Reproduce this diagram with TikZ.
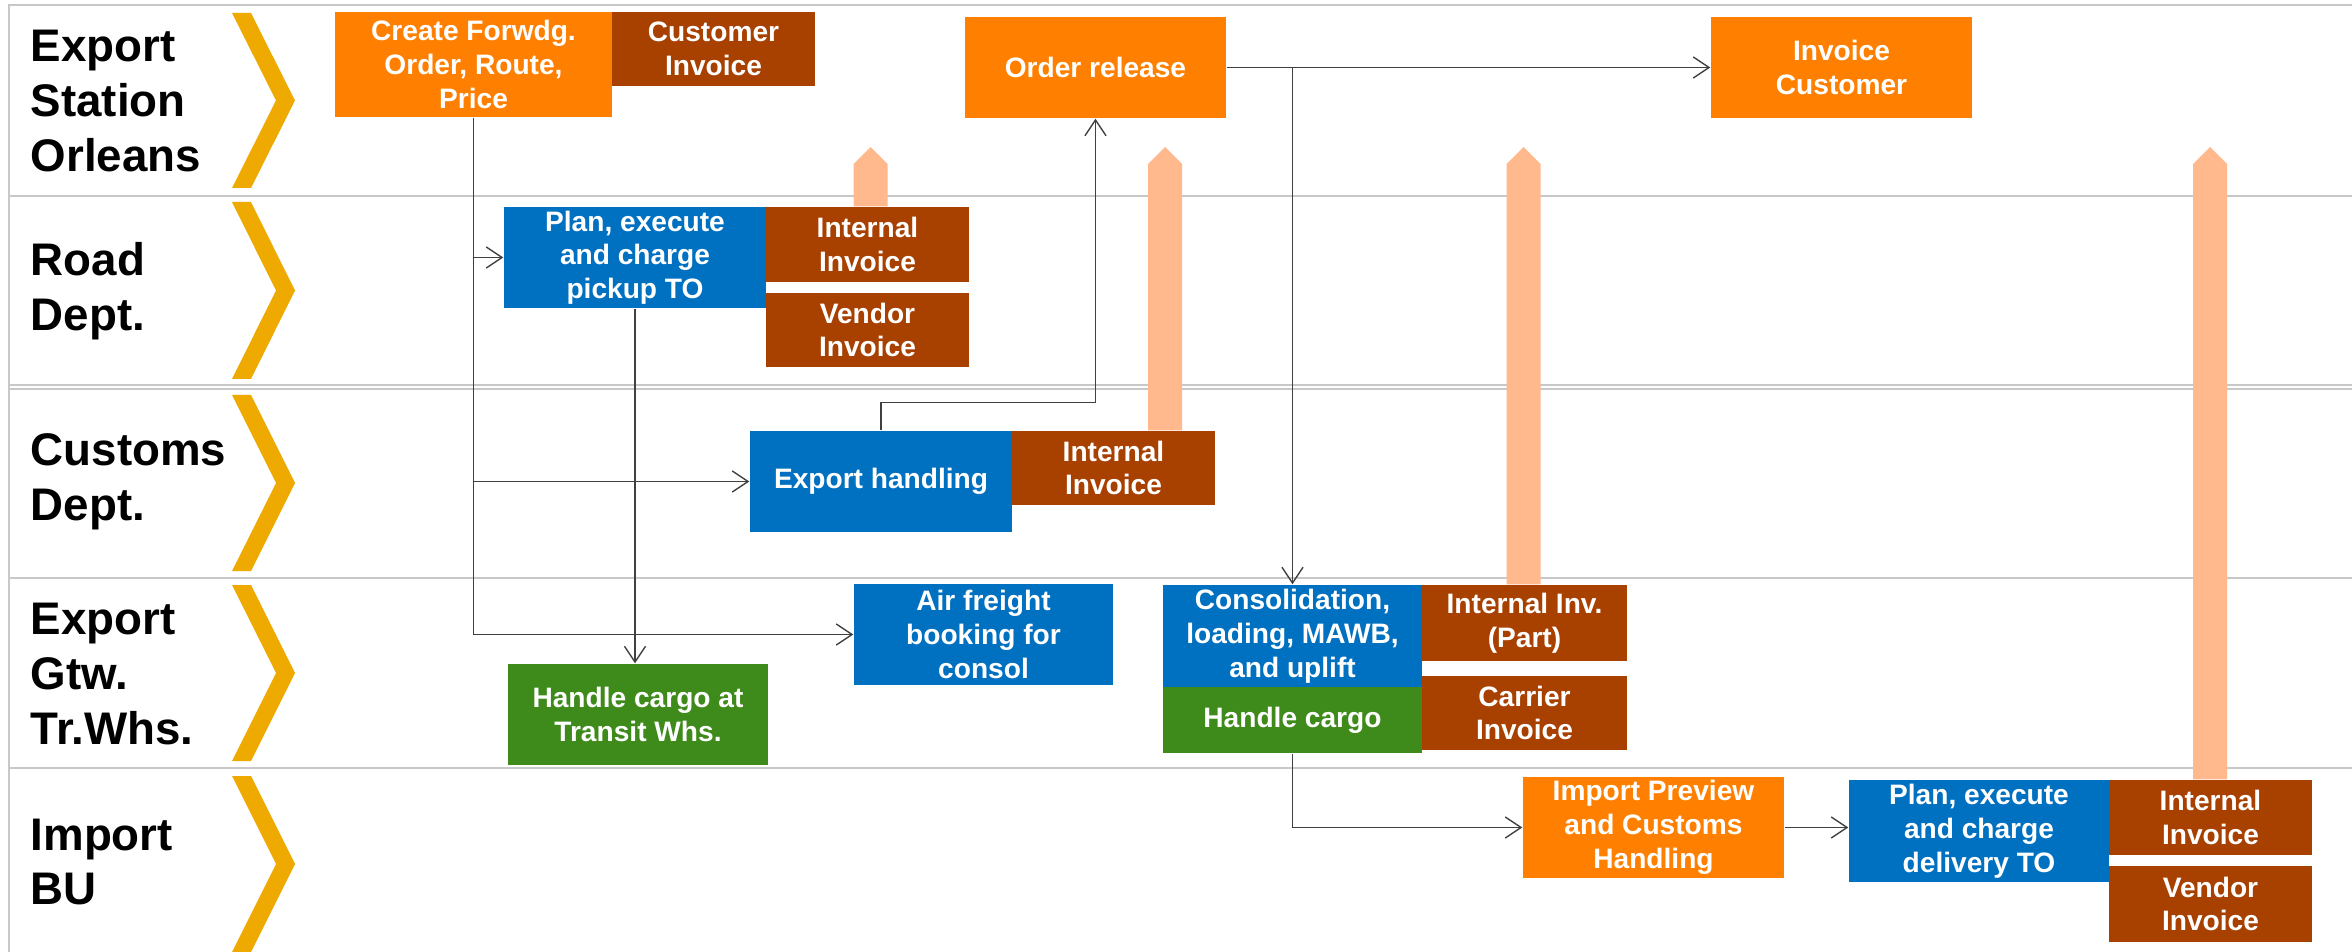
\documentclass[tikz,border=0pt]{standalone}
\usepackage{fontspec}
\setmainfont{Liberation Sans}
\usepackage{xcolor}
\usetikzlibrary{arrows.meta}

\definecolor{boxorange}{RGB}{255,128,0}
\definecolor{boxbrown}{RGB}{168,64,0}
\definecolor{boxblue}{RGB}{0,112,192}
\definecolor{boxgreen}{RGB}{62,138,26}
\definecolor{peach}{RGB}{255,185,140}
\definecolor{laneyellow}{RGB}{238,170,0}
\definecolor{laneline}{RGB}{200,200,200}

% invoice feed arrow: shaft centre x, target invoice node
\newcommand{\feedarrow}[2]{%
  \fill[peach] (#1-17,0 |- #2.north) -- (#1-17,164) -- (#1,147)
    -- (#1+17,164) -- (#1+17,0 |- #2.north) -- cycle;}
% lane chevron: top y, bottom y
\newcommand{\chevron}[2]{%
  \fill[laneyellow] (232,#1) -- (251,#1) -- (295,{(#1+#2)/2}) -- (251,#2)
    -- (232,#2) -- (276,{(#1+#2)/2}) -- cycle;}

\begin{document}
\begin{tikzpicture}[x=0.1mm, y=-0.1mm, >={Straight Barb[length=4.5pt,width=6pt]},
  box/.style={text=white, font=\bfseries\fontsize{8}{9.6}\selectfont, align=center, inner sep=0pt},
  task/.style={box, minimum width=2.6cm, minimum height=1.01cm},
  inv/.style={box, fill=boxbrown, minimum width=2.03cm, minimum height=0.75cm},
  lane/.style={font=\bfseries\fontsize{13}{15.6}\selectfont, align=left, anchor=west, inner sep=0pt},
  flow/.style={draw=black!75, line width=0.4pt, ->}]
  \useasboundingbox (0,0) rectangle (2352,952);

  % swim lanes
  \draw[laneline, line width=0.6pt] (9,952) -- (9,5) -- (2352,5);
  \draw[laneline, line width=0.6pt] (9,196) -- (2352,196);
  \draw[laneline, line width=0.6pt] (9,385) -- (2352,385);
  \draw[laneline, line width=0.6pt] (9,389) -- (2352,389);
  \draw[laneline, line width=0.6pt] (9,578) -- (2352,578);
  \draw[laneline, line width=0.6pt] (9,768) -- (2352,768);

  \node[lane] (l1) at (30,101) {Export\\Station\\Orleans};
  \node[lane] (l2) at (30,291) {Road\\Dept.};
  \node[lane] (l3) at (30,482) {Customs\\Dept.};
  \node[lane] (l4) at (30,674) {Export\\Gtw.\\Tr.Whs.};
  \node[lane] (l5) at (30,862) {Import\\BU};

  \chevron{13}{188}
  \chevron{202}{379}
  \chevron{395}{571}
  \chevron{585}{761}
  \chevron{776}{952}

  % export station
  \node[box, fill=boxorange, minimum width=2.77cm, minimum height=1.05cm] (fwd) at (473.5,64.5) {Create Forwdg.\\Order, Route,\\Price};
  \node[inv, minimum height=0.74cm] (cinv) at (713.5,49) {Customer\\Invoice};
  \node[task, fill=boxorange, minimum width=2.61cm] (rel) at (1095.5,67.5) {Order release};
  \node[task, fill=boxorange, minimum width=2.61cm] (invc) at (1841.5,67.5) {Invoice\\Customer};

  % road
  \node[task, fill=boxblue, minimum width=2.62cm] (pick) at (635,257.5) {Plan, execute\\and charge\\pickup TO};
  \node[inv] (intr) at (867.5,244.5) {Internal\\Invoice};
  \node[inv, minimum height=0.74cm] (venr) at (867.5,330) {Vendor\\Invoice};

  % customs
  \node[task, fill=boxblue, minimum width=2.62cm] (exph) at (881,481.5) {Export handling};
  \node[inv, minimum height=0.74cm] (intc) at (1113.5,468) {Internal\\Invoice};

  % export gateway
  \node[task, fill=boxgreen] (transit) at (638,714.5) {Handle cargo at\\Transit Whs.};
  \node[task, fill=boxblue, minimum width=2.59cm] (air) at (983.5,634.5) {Air freight\\booking for\\consol};
  \node[task, fill=boxblue, minimum width=2.59cm, minimum height=1.02cm] (cons) at (1292.5,636) {Consolidation,\\loading, MAWB,\\and uplift};
  \node[box, fill=boxgreen, minimum width=2.59cm, minimum height=0.66cm] (hc) at (1292.5,720) {Handle cargo};
  \node[inv, minimum width=2.05cm, minimum height=0.76cm] (intp) at (1524.5,623) {Internal Inv.\\(Part)};
  \node[inv, minimum width=2.05cm, minimum height=0.74cm] (carr) at (1524.5,713) {Carrier\\Invoice};

  % import
  \node[task, fill=boxorange, minimum width=2.61cm] (impp) at (1653.5,827.5) {Import Preview\\and Customs\\Handling};
  \node[task, fill=boxblue, minimum height=1.02cm] (deliv) at (1979,831) {Plan, execute\\and charge\\delivery TO};
  \node[inv] (intd) at (2210.5,817.5) {Internal\\Invoice};
  \node[inv, minimum height=0.76cm] (vend) at (2210.5,904) {Vendor\\Invoice};

  % invoices passed up to the station
  \feedarrow{870.5}{intr}
  \feedarrow{1165}{intc}
  \feedarrow{1523.5}{intp}
  \feedarrow{2210}{intd}

  % process flow
  \draw[flow] (fwd.south) |- (pick.west);
  \draw[flow] (fwd.south) |- (exph.west);
  \draw[flow] (fwd.south) |- (air.west);
  \draw[flow] (pick.south) -- (pick.south |- transit.north);
  \draw[flow] (exph.north) -- ++(0,-28) -| (rel.south);
  \draw[flow] (rel.east) -- (invc.west);
  \draw[flow] (rel.east) -| (cons.north);
  \draw[flow] (hc.south) |- (impp.west);
  \draw[flow] (impp.east) -- (impp.east -| deliv.west);
\end{tikzpicture}
\end{document}
